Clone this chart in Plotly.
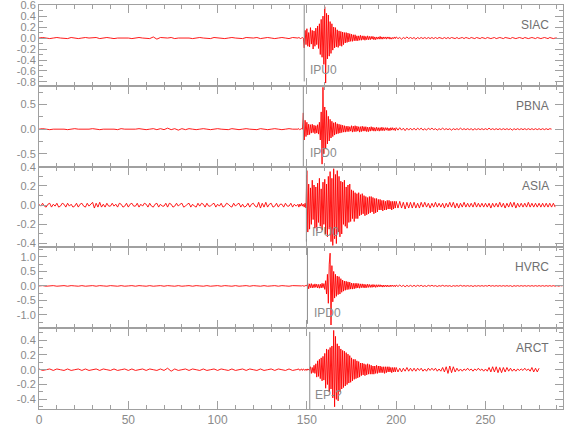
import numpy as np
import plotly.graph_objects as go

# ---------------- data (amplitudes in hundredths) ----------------
stations = ["SIAC", "PBNA", "ASIA", "HVRC", "ARCT"]
pick_labels = ["IPU0", "IPD0", "IPU0", "IPD0", "EP-?"]
pick_times = [148.5, 148.0, 149.7, 150.3, 151.6]
trace_end = [290, 287, 289, 293, 280]

x_tick_vals = [0, 50, 100, 150, 200, 250]
x_tick_text = ["0", "50", "100", "150", "200", "250"]
y_tick_vals = [
    [0.6, 0.4, 0.2, 0.0, -0.2, -0.4, -0.6, -0.8],
    [0.5, 0.0, -0.5],
    [0.4, 0.2, 0.0, -0.2, -0.4],
    [1.0, 0.5, 0.0, -0.5, -1.0],
    [0.4, 0.2, 0.0, -0.2, -0.4],
]
y_tick_text = [
    ["0.6", "0.4", "0.2", "0.0", "-0.2", "-0.4", "-0.6", "-0.8"],
    ["0.5", "0.0", "-0.5"],
    ["0.4", "0.2", "0.0", "-0.2", "-0.4"],
    ["1.0", "0.5", "0.0", "-0.5", "-1.0"],
    ["0.4", "0.2", "0.0", "-0.2", "-0.4"],
]

# pre-event samples (0 .. 144 s)
SIAC_pre = [0,1,0,-1,0,1,0,0,-1,1,0,-1,0,1,0,0,1,-1,0,1,0,-1,0,0,1,0,-1,0,1,0,0,-1,2,-2,1,0,0,1,-1,0,0,1,0,-1,0,1,0,0,-1,1,0,0,-1,0,1,0,0,-1,1,0,0,1,-1,0,1,0,-1,0,1,0,-1,1,0]
PBNA_pre = [0,1,0,-1,0,0,1,0,-1,0,1,0,0,-1,0,1,0,-1,0,0,1,0,-1,1,0,0,-1,0,1,0,-1,0,1,-1,1,-1,2,-1,1,-2,1,-1,1,0,-1,0,1,0,-1,0,1,0,0,-1,1,0,-1,0,1,0,0,-1,1,0,-1,0,1,0,-1,0,1,0,-1]
ASIA_pre = [
    1,-1,2,-1,-2,1,2,-2,1,-1,2,-2,-1,2,1,-2,2,-1,1,-2,
    -1,2,-2,1,2,-1,-2,2,-1,1,3,-3,2,-2,3,-2,1,-2,2,-1,
    -1,2,-1,1,-2,2,1,-2,-1,2,-2,1,2,-1,-1,2,-2,1,-1,2,
    1,-2,2,-1,-2,1,2,-2,1,-1,-1,2,-2,2,1,-2,-1,2,-1,1,
    2,-2,-1,1,2,-2,1,-1,-2,2,-1,2,1,-2,2,-1,-1,1,2,-2,
    1,-1,2,-2,-1,2,1,-1,-2,2,-1,1,2,-2,1,-2,-1,2,-2,1,
    2,-1,-2,3,-3,2,-2,3,-2,1,2,-2,-1,2,-2,1,1,-2,2,-1,
    -1,2,-2,1,-1,
]
HVRC_pre = [0,1,-1,0,1,-1,0,1,-1,1,0,-1,1,-1,0,1,-1,1,0,-1,1,0,-1,1,-1,0,1,-1,1,0,-1,1,-1,0,1,-1,1,0,-1,1,-1,0,1,-1,1,0,-1,1,-1,0,1,-1,1,0,-1,1,-1,0,1,-1,1,0,-1,1,-1,0,1,-1,1,0,-1,1,0]
ARCT_pre = [1,-1,0,1,-1,1,0,-1,1,-1,0,1,-1,1,-1,0,1,-1,1,0,-1,1,-1,0,1,-1,1,-1,0,1,-1,1,0,-1,1,-1,2,-2,1,-1,0,1,-1,1,0,-1,1,-1,0,1,-1,1,0,-1,1,-1,0,1,-1,1,0,-1,1,-1,0,1,-1,1,0,-1,1,-1,0]

# main phase samples, 145.0 .. 199.5 s every 0.5 s (one row = 5 s)
SIAC_act = [
    0, 1, 0, -1, 0, 1, 0, -18, 14, -12,
    17, -15, 10, -16, 19, -11, 14, -20, 13, -15,
    18, -12, 22, -19, 26, -30, 34, -35, 40, -48,
    57, -82, 45, -38, 42, -33, 30, -28, 26, -22,
    20, -18, 19, -16, 15, -17, 13, -14, 12, -15,
    11, -12, 10, -9, 10, -8, 9, -7, 8, -6,
    7, -6, 6, -5, 6, -5, 4, -5, 4, -4,
    5, -4, 4, -3, 4, -4, 3, -3, 4, -3,
    3, -3, 3, -2, 3, -3, 2, -3, 2, -2,
    2, -2, 3, -2, 2, -2, 2, -1, 2, -2,
    2, -1, 2, -2, 1, -2, 1, -1, 2, -1,
]
PBNA_act = [
    0, 1, -1, 0, 1, 0, 33, -22, 18, -15,
    14, -12, 10, -11, 9, -8, 10, -7, 8, -9,
    7, -8, 9, -10, 14, -22, 35, -71, 85, -50,
    45, -40, 38, -30, 26, -24, 20, -18, 16, -15,
    13, -12, 14, -10, 11, -9, 10, -8, 9, -7,
    8, -6, 7, -6, 6, -5, 6, -5, 5, -4,
    7, -6, 6, -5, 7, -5, 6, -4, 5, -6,
    5, -5, 6, -4, 5, -4, 5, -5, 4, -5,
    4, -4, 5, -3, 4, -4, 3, -4, 4, -3,
    3, -4, 3, -3, 4, -3, 3, -3, 3, -2,
    3, -3, 2, -3, 3, -2, 3, -2, 2, -3,
]
ASIA_act = [
    1, -2, 1, -1, 2, -1, 1, -2, 2, -3,
    36, -28, 22, -25, 18, -20, 26, -15, 21, -24,
    19, -27, 23, -18, 28, -22, 17, -26, 24, -20,
    27, -30, 22, -33, 30, -25, 35, -38, 28, -42,
    38, -35, 32, -40, 36, -28, 30, -33, 25, -30,
    24, -20, 26, -22, 19, -24, 21, -18, 22, -17,
    16, -14, 15, -17, 13, -14, 12, -14, 13, -11,
    11, -10, 12, -9, 10, -11, 9, -10, 8, -9,
    9, -8, 9, -7, 8, -9, 7, -8, 7, -7,
    6, -5, 6, -5, 5, -6, 5, -5, 4, -5,
    5, -4, 5, -4, 4, -5, 4, -4, 4, -3,
]
HVRC_act = [
    0, 1, 0, -1, 0, 1, 0, -1, 1, 0,
    1, 8, -10, 7, -6, 8, -7, 5, -6, 7,
    -5, 6, -7, 5, -8, 6, -7, 9, -6, 8,
    -12, 18, -28, 40, -60, 75, 113, -135, 70, -55,
    50, -42, 40, -36, 34, -30, 32, -28, 25, -22,
    20, -18, 17, -15, 16, -13, 14, -12, 13, -11,
    10, -11, 9, -10, 9, -8, 9, -7, 8, -8,
    7, -6, 7, -6, 6, -7, 5, -6, 6, -5,
    5, -5, 4, -5, 5, -4, 4, -5, 4, -4,
    4, -3, 4, -3, 3, -4, 3, -3, 3, -3,
    3, -3, 2, -3, 3, -2, 3, -2, 2, -3,
]
ARCT_act = [
    0, 1, -1, 0, 1, -1, 1, 0, -1, 1,
    -1, 1, 0, -1, 4, -5, 3, -4, 6, -5,
    8, -10, 12, -9, 14, -12, 16, -15, 18, -14,
    22, -25, 28, -20, 27, -30, 30, -26, 32, -38,
    53, -50, 45, -40, 35, -42, 32, -30, 28, -26,
    26, -24, 25, -22, 23, -20, 21, -18, 19, -17,
    16, -15, 14, -13, 14, -12, 12, -11, 11, -10,
    9, -8, 9, -7, 8, -8, 7, -7, 8, -6,
    7, -6, 6, -6, 5, -6, 5, -5, 6, -5,
    5, -4, 5, -4, 4, -4, 4, -5, 4, -4,
    4, -3, 4, -3, 3, -4, 3, -3, 3, -3,
]

# coda samples, 200 s .. end, ~1 s apart
SIAC_tail = [
    2, -1, 1, -2, 1, -1, 2, -1, 1, -1,
    1, -2, 1, -1, 1, -1, 1, -1, 1, -1,
    1, -1, 1, -1, 1, 0, -1, 1, -1, 1,
    -1, 1, 0, -1, 1, -1, 0, 1, -1, 1,
    0, -1, 1, 0, -1, 1, 0, -1, 1, 0,
    -1, 1, 0, -1, 0, 1, -1, 0, 1, 0,
    -1, 1, 0, 0, -1, 1, 0, -1, 0, 1,
    0, -1, 1, 0, -1, 0, 1, 0, -1, 1,
    0, -1, 0, 1, 0, -1, 1, 0, -1, 0,
    0,
]
PBNA_tail = [
    3, -2, 3, -2, 2, -3, 2, -2, 2, -2,
    2, -2, 2, -1, 2, -2, 1, -2, 2, -1,
    2, -1, 1, -2, 1, -1, 2, -1, 1, -1,
    1, -2, 1, -1, 1, -1, 2, -1, 1, -1,
    1, -1, 1, -2, 1, -1, 1, -1, 1, -1,
    1, -1, 2, -1, 1, -1, 1, -1, 1, -1,
    1, -1, 1, -1, 1, -2, 1, -1, 1, -1,
    1, -1, 1, -1, 1, -1, 1, -1, 1, -1,
    1, -1, 1, -1, 1, -1, 1, 0,
]
ASIA_tail = [
    4, -3, 4, -3, 3, -4, 3, -3, 3, -3,
    3, -3, 2, -3, 3, -2, 3, -2, 2, -3,
    2, -2, 3, -2, 2, -2, 2, -3, 2, -2,
    3, -2, 3, -3, 2, -3, 2, -2, 3, -2,
    2, -2, 2, -2, 3, -2, 2, -2, 2, -2,
    2, -2, 2, -3, 2, -2, 2, -2, 3, -2,
    2, -3, 2, -2, 3, -2, 3, -3, 2, -2,
    2, -2, 2, -2, 3, -2, 2, -2, 2, -2,
    2, -2, 2, -2, 2, -2, 2, -2, 2, -2,
]
HVRC_tail = [
    3, -2, 3, -2, 2, -3, 2, -2, 2, -2,
    2, -2, 2, -1, 2, -2, 1, -2, 2, -1,
    2, -1, 1, -2, 1, -1, 2, -1, 1, -1,
    1, -2, 1, -1, 1, -1, 2, -1, 1, -1,
    1, -1, 1, -2, 1, -1, 1, -1, 1, -1,
    1, -1, 2, -1, 1, -1, 1, -1, 1, -1,
    1, -1, 1, -1, 1, -2, 1, -1, 1, -1,
    1, -1, 1, -1, 1, -1, 1, -1, 1, -1,
    1, -1, 1, -1, 1, -1, 1, -1, 1, -1,
    1, -1, 1, 0,
]
ARCT_tail = [
    3, -3, 2, -3, 2, -2, 3, -2, 2, -2,
    2, -2, 2, -1, 2, -2, 1, -2, 2, -1,
    2, -1, 2, -2, 1, -2, 3, -3, 4, -5,
    5, -4, 4, -3, 2, -2, 1, -2, 1, -1,
    2, -1, 1, -2, 1, -1, 2, -1, 1, -2,
    1, -2, 3, -3, 4, -3, 4, -4, 3, -4,
    3, -3, 3, -2, 2, -2, 1, -2, 1, -1,
    1, -1, 2, -1, 1, -2, 3, -3, 2, -3,
    2,
]

pre = [SIAC_pre, PBNA_pre, ASIA_pre, HVRC_pre, ARCT_pre]
act = [SIAC_act, PBNA_act, ASIA_act, HVRC_act, ARCT_act]
tail = [SIAC_tail, PBNA_tail, ASIA_tail, HVRC_tail, ARCT_tail]

# ---------------- styling / layout ----------------
y_ranges = [[-0.87, 0.602], [-0.76, 0.88], [-0.44, 0.402], [-1.46, 1.33], [-0.53, 0.56]]
y_minor = [0.1, 0.25, 0.1, 0.25, 0.1]
pick_line_y = [(-0.79, 0.6), (-0.76, 0.88), (-0.38, 0.4), (-1.31, 1.33), (-0.53, 0.51)]
pick_text_pos = [(150.6, -0.59), (150.4, -0.48), (151.7, -0.28), (152.7, -0.93), (153.2, -0.34)]
station_y = [0.24, 0.46, 0.2, 0.66, 0.29]

AX = "#a0a0a0"
TXT = "#8a8a8a"
FONT = "Liberation Sans, Arial, sans-serif"

fig = go.Figure()
layout = dict(
    width=580, height=440,
    margin=dict(l=39, r=17, t=5, b=31, autoexpand=False),
    paper_bgcolor="white", plot_bgcolor="white",
    showlegend=False,
    font=dict(family=FONT, size=11, color=TXT),
)
shapes = []
annotations = []
n = len(stations)
for i in range(n):
    k = "" if i == 0 else str(i + 1)
    t = np.concatenate([
        np.linspace(0, 144, len(pre[i])),
        145 + 0.5 * np.arange(len(act[i])),
        np.linspace(200, trace_end[i], len(tail[i])),
    ])
    v = 0.01 * np.array(pre[i] + act[i] + tail[i], dtype=float)
    fig.add_trace(go.Scatter(x=t, y=v, mode="lines", xaxis="x" + k, yaxis="y" + k,
                             line=dict(color="#ff0000", width=0.9), hoverinfo="skip"))
    top = 1 - i / n
    bot = 1 - (i + 1) / n
    layout["xaxis" + k] = dict(
        domain=[0, 1], anchor="y" + k, range=[0, 293.4], automargin=False,
        tickmode="array", tickvals=x_tick_vals, ticktext=x_tick_text,
        showticklabels=(i == n - 1), ticklabeloverflow="allow",
        ticks="inside", ticklen=8, tickcolor=AX, tickwidth=1,
        minor=dict(dtick=10, tick0=0, ticks="inside", ticklen=4, tickcolor=AX, showgrid=False),
        showline=True, linecolor=AX, linewidth=1, mirror="ticks",
        showgrid=False, zeroline=False,
        tickfont=dict(family=FONT, size=12, color=TXT),
    )
    layout["yaxis" + k] = dict(
        domain=[bot, top], anchor="x" + k, range=y_ranges[i], automargin=False,
        tickmode="array", tickvals=y_tick_vals[i], ticktext=y_tick_text[i],
        ticklabeloverflow="allow",
        ticks="inside", ticklen=8, tickcolor=AX, tickwidth=1,
        minor=dict(dtick=y_minor[i], tick0=0, ticks="inside", ticklen=4, tickcolor=AX, showgrid=False),
        showline=True, linecolor=AX, linewidth=1, mirror="ticks",
        showgrid=False, zeroline=False,
        tickfont=dict(family=FONT, size=11, color=TXT),
    )
    shapes.append(dict(type="line", xref="x" + k, yref="y" + k,
                       x0=pick_times[i], x1=pick_times[i],
                       y0=pick_line_y[i][0], y1=pick_line_y[i][1],
                       line=dict(color="#8c8c8c", width=1)))
    annotations.append(dict(xref="x" + k, yref="y" + k,
                            x=pick_text_pos[i][0], y=pick_text_pos[i][1],
                            text=pick_labels[i], showarrow=False,
                            xanchor="left", yanchor="middle",
                            font=dict(family=FONT, size=12, color=TXT)))
    annotations.append(dict(xref="x" + k, yref="y" + k,
                            x=286.7, y=station_y[i],
                            text=stations[i], showarrow=False,
                            xanchor="right", yanchor="middle",
                            font=dict(family=FONT, size=12, color="#707070")))

layout["shapes"] = shapes
layout["annotations"] = annotations
fig.update_layout(**layout)
fig.write_html("out.html", config={"displayModeBar": False},
               post_script="document.body.style.margin='0px';")
